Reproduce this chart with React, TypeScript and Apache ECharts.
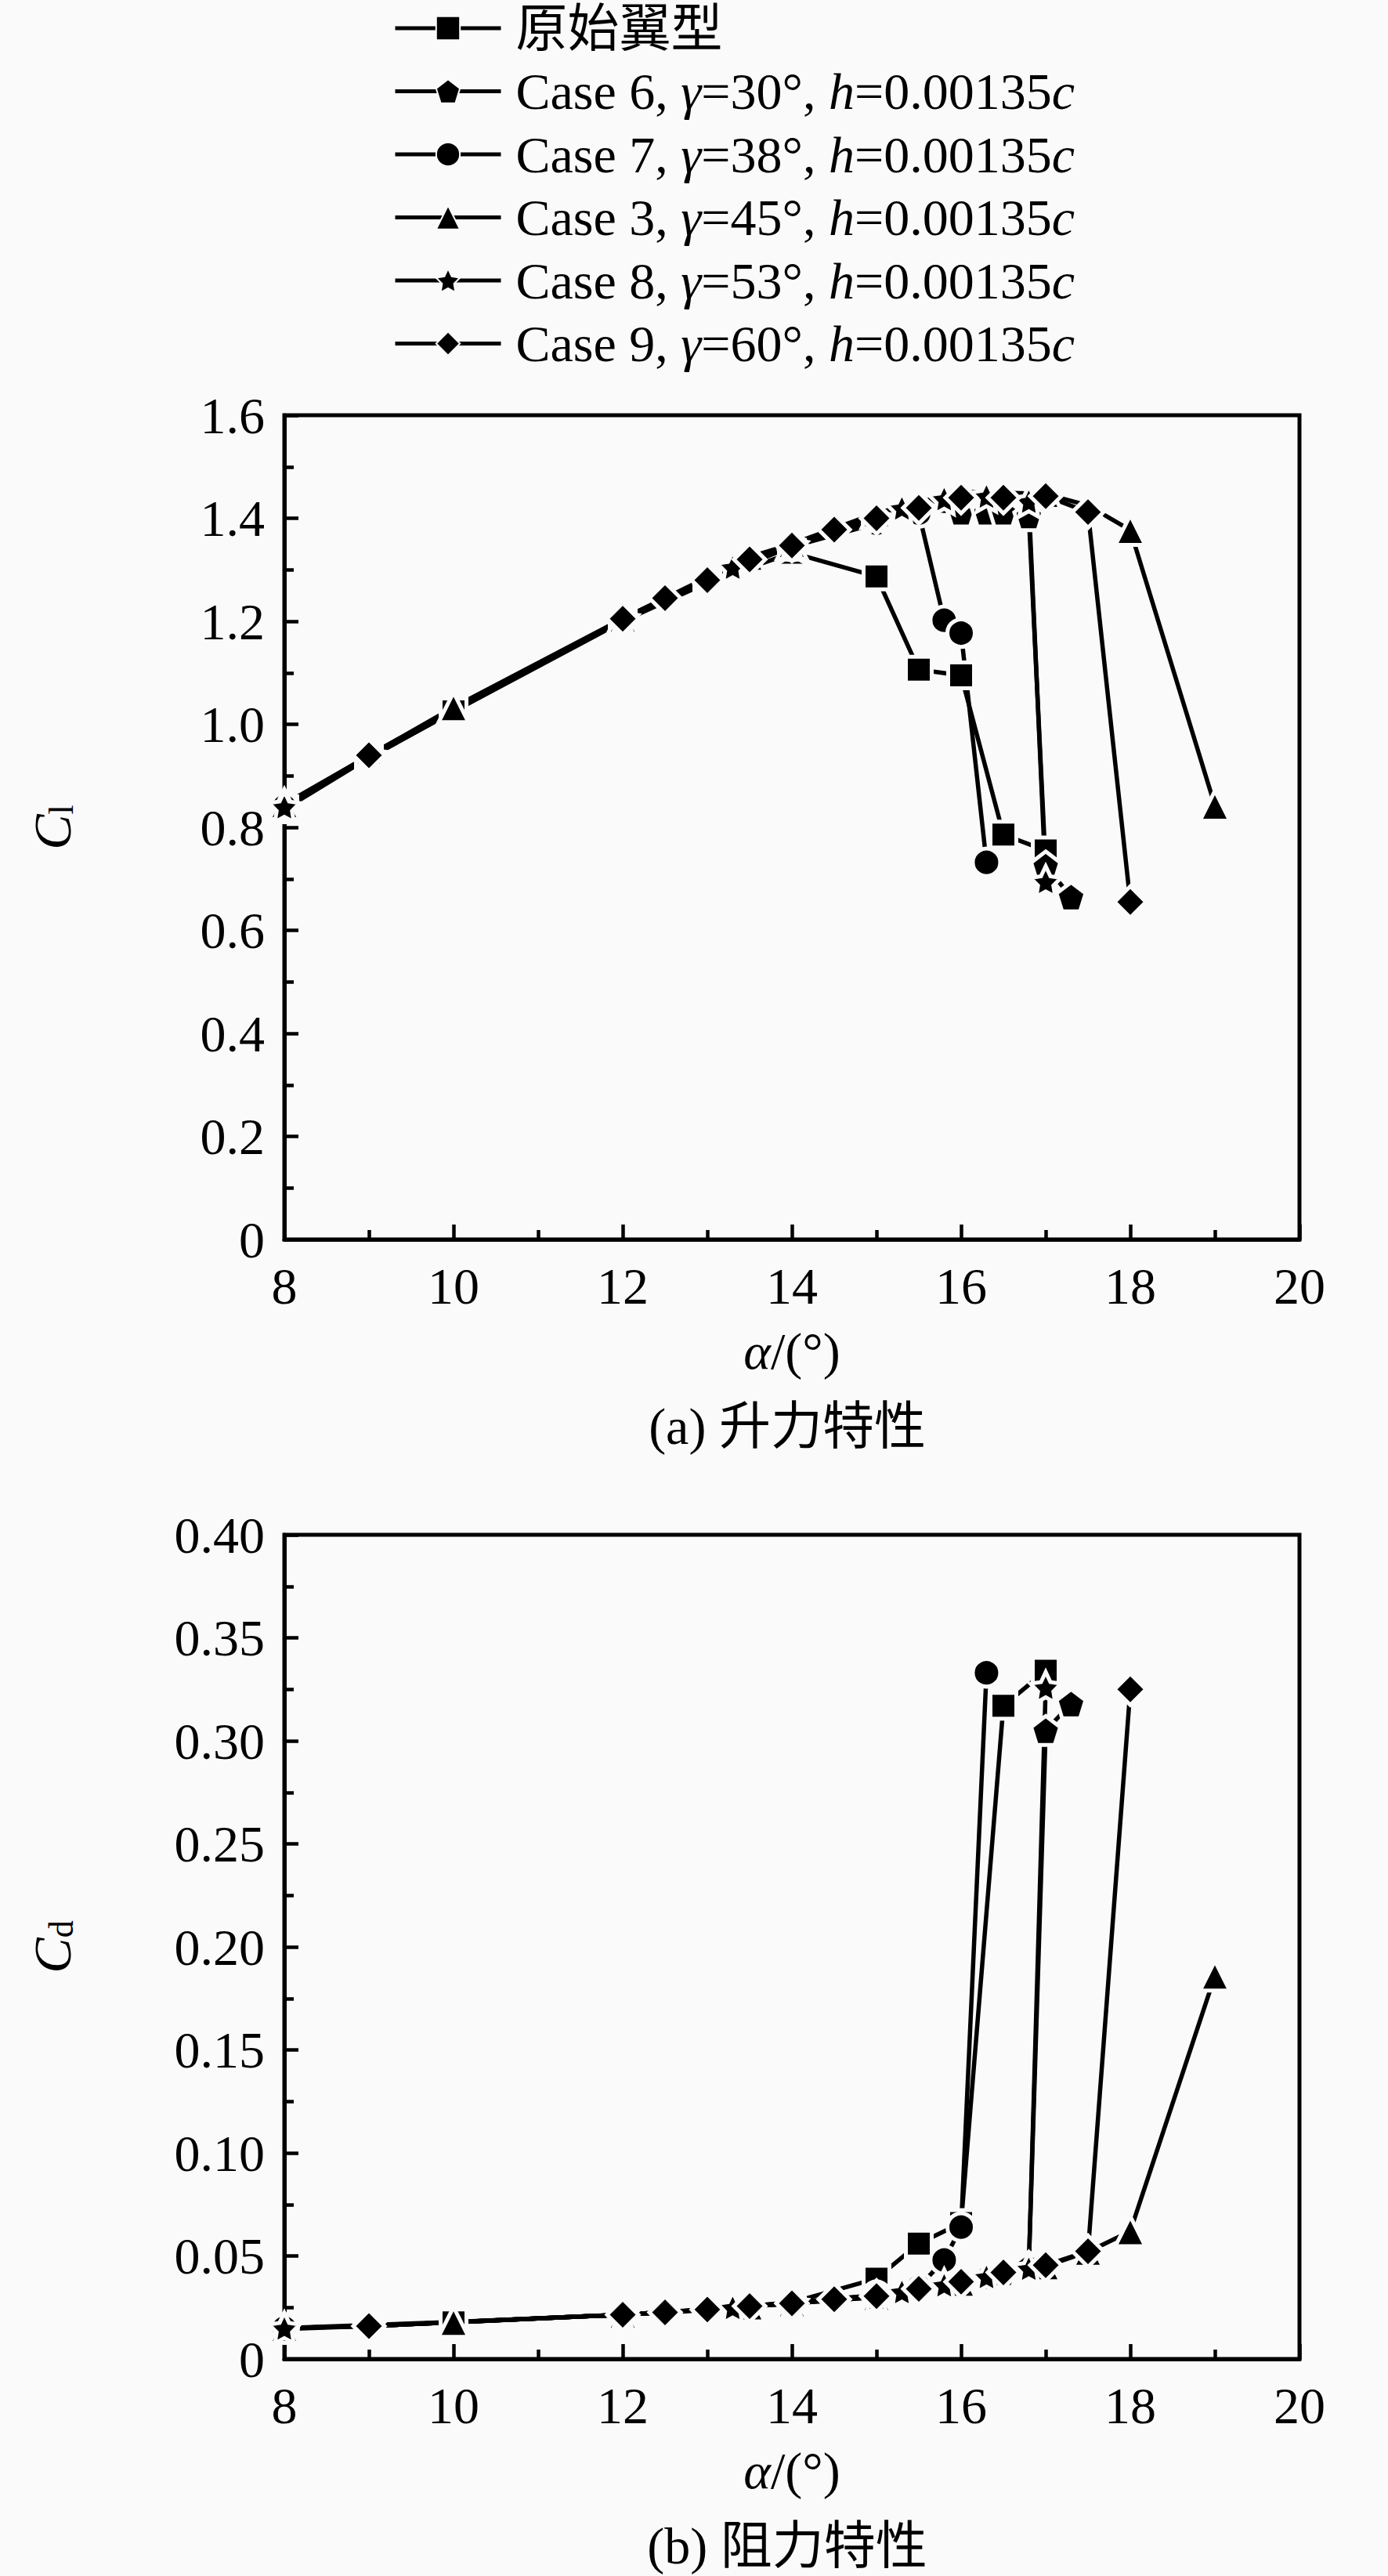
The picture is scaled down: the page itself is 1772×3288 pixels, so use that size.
import React, { useEffect, useRef } from "react";
import * as echarts from "echarts";

// ---- data ----
const seriesNames = [
  "原始翼型",
  "Case 6, γ=30°, h=0.00135c",
  "Case 7, γ=38°, h=0.00135c",
  "Case 3, γ=45°, h=0.00135c",
  "Case 8, γ=53°, h=0.00135c",
  "Case 9, γ=60°, h=0.00135c",
];
const legendRich = [
  "原始翼型",
  "Case 6, {i|γ}=30°, {i|h}=0.00135{i|c}",
  "Case 7, {i|γ}=38°, {i|h}=0.00135{i|c}",
  "Case 3, {i|γ}=45°, {i|h}=0.00135{i|c}",
  "Case 8, {i|γ}=53°, {i|h}=0.00135{i|c}",
  "Case 9, {i|γ}=60°, {i|h}=0.00135{i|c}",
];

const aOrig = [8, 9, 10, 12, 13, 14, 15, 15.5, 16, 16.5, 17];
const clOrig = [0.835, 0.935, 1.025, 1.2, 1.275, 1.333, 1.287, 1.106, 1.095, 0.786, 0.755];
const cdOrig = [0.0145, 0.016, 0.0178, 0.0215, 0.0238, 0.0275, 0.039, 0.056, 0.066, 0.317, 0.334];

const aC6 = [8, 9, 12, 13, 14, 15, 15.5, 16, 16.3, 16.5, 16.8, 17, 17.3];
const clC6 = [0.84, 0.935, 1.205, 1.28, 1.348, 1.395, 1.418, 1.412, 1.412, 1.412, 1.405, 0.725, 0.665];
const cdC6 = [0.015, 0.016, 0.0215, 0.024, 0.027, 0.031, 0.0345, 0.0375, 0.04, 0.042, 0.045, 0.305, 0.318];

const aC7 = [8, 9, 12, 13, 14, 15, 15.5, 15.8, 16, 16.3];
const clC7 = [0.84, 0.935, 1.205, 1.28, 1.345, 1.39, 1.41, 1.202, 1.177, 0.732];
const cdC7 = [0.015, 0.016, 0.0215, 0.024, 0.0275, 0.031, 0.035, 0.048, 0.064, 0.333];

const aC3 = [8, 10, 12, 13.5, 14, 15, 16, 17, 17.5, 18, 19];
const clC3 = [0.845, 1.033, 1.205, 1.325, 1.35, 1.41, 1.452, 1.447, 1.425, 1.377, 0.842];
const cdC3 = [0.015, 0.018, 0.0215, 0.0255, 0.027, 0.03, 0.037, 0.045, 0.052, 0.062, 0.186];

const aC8 = [8, 9, 12, 13, 13.3, 14, 15, 15.3, 15.8, 16.3, 16.8, 17];
const clC8 = [0.84, 0.94, 1.205, 1.282, 1.305, 1.347, 1.4, 1.42, 1.438, 1.443, 1.433, 0.695];
const cdC8 = [0.015, 0.016, 0.0215, 0.024, 0.025, 0.027, 0.03, 0.0327, 0.036, 0.04, 0.044, 0.326];

const aC9 = [9, 12, 12.5, 13, 13.5, 14, 14.5, 15, 15.5, 16, 16.5, 17, 17.5, 18];
const clC9 = [0.94, 1.205, 1.245, 1.28, 1.32, 1.347, 1.378, 1.4, 1.42, 1.44, 1.44, 1.443, 1.412, 0.655];
const cdC9 = [0.016, 0.0215, 0.0226, 0.024, 0.0257, 0.027, 0.029, 0.0305, 0.034, 0.0375, 0.042, 0.0455, 0.0523, 0.325];

const xTicks = [8, 10, 12, 14, 16, 18, 20];

// ---- styles ----
const BG = "#fafafa";
const FONT = "'Liberation Serif', 'Times New Roman', 'Noto Sans CJK SC', serif";
const FS = 66;

const PENTAGON = "path://M50,0L97.6,34.5L79.4,90.5L20.6,90.5L2.4,34.5Z";
const STAR =
  "path://M50,0L64.7,29.8L97.6,34.5L73.8,57.7L79.4,90.5L50,75L20.6,90.5L26.2,57.7L2.4,34.5L35.3,29.8Z";

const symbols = ["rect", PENTAGON, "circle", "triangle", STAR, "diamond"];
const symbolSizes = [33, 37, 35, 38, 39, 40];

const alphas = [aOrig, aC6, aC7, aC3, aC8, aC9];
const cls = [clOrig, clC6, clC7, clC3, clC8, clC9];
const cds = [cdOrig, cdC6, cdC7, cdC3, cdC8, cdC9];

function zip(a: number[], b: number[]) {
  return a.map((x, i) => [x, b[i]]);
}

const GRID_LEFT = 363;
const GRID_W = 1296;
const GRID_H = 1052;
const TOP1 = 530;
const TOP2 = 1959;
const AXW = 5;
const TKW = 4.5;
const LW = 5.5;

function xAxisCfg(gridIndex: number) {
  return {
    type: "value",
    gridIndex,
    min: 8,
    max: 20,
    interval: 2,
    name: "{i|α}/(°)",
    nameLocation: "middle",
    nameGap: 109,
    nameTextStyle: {
      fontFamily: FONT,
      fontSize: FS,
      color: "#000",
      lineHeight: FS,
      rich: { i: { fontFamily: FONT, fontSize: FS, fontStyle: "italic", color: "#000", lineHeight: FS } },
    },
    axisLine: { show: true, onZero: false, lineStyle: { color: "#000", width: AXW } },
    axisTick: { show: true, inside: true, length: 19, lineStyle: { color: "#000", width: TKW } },
    minorTick: { show: true, splitNumber: 2, length: 12, lineStyle: { color: "#000", width: TKW } },
    splitLine: { show: false },
    axisLabel: {
      show: true,
      margin: 26,
      fontFamily: FONT,
      fontSize: FS,
      color: "#000",
      lineHeight: FS,
      formatter: (v: number) => (xTicks.indexOf(v) >= 0 ? String(v) : ""),
    },
  };
}

function yAxisCfg(gridIndex: number, max: number, interval: number, digits: number, sub: string) {
  return {
    type: "value",
    gridIndex,
    min: 0,
    max,
    interval,
    name: "{c|C}{s|" + sub + "}",
    nameLocation: "middle",
    nameRotate: 90,
    nameGap: 263,
    nameTextStyle: {
      fontFamily: FONT,
      fontSize: FS,
      color: "#000",
      lineHeight: FS,
      rich: {
        c: { fontFamily: FONT, fontSize: 68, fontStyle: "italic", color: "#000", lineHeight: FS },
        s: { fontFamily: FONT, fontSize: 44, color: "#000", lineHeight: 26, verticalAlign: "bottom" },
      },
    },
    axisLine: { show: true, onZero: false, lineStyle: { color: "#000", width: AXW } },
    axisTick: { show: true, inside: true, length: 18, lineStyle: { color: "#000", width: TKW } },
    minorTick: { show: true, splitNumber: 2, length: 12, lineStyle: { color: "#000", width: TKW } },
    splitLine: { show: false },
    axisLabel: {
      show: true,
      margin: 25,
      fontFamily: FONT,
      fontSize: FS,
      color: "#000",
      formatter: (v: number) => (Math.abs(v) < 1e-9 ? "0" : v.toFixed(digits)),
    },
  };
}

export default function App() {
  const ref = useRef<HTMLDivElement>(null);

  useEffect(() => {
    document.body.style.margin = "0";
    document.body.style.background = BG;
    if (!ref.current) return;
    const chart = echarts.init(ref.current, null, { renderer: "svg" });

    const series: any[] = [];
    for (let g = 0; g < 2; g++) {
      for (let k = 0; k < 6; k++) {
        series.push({
          name: seriesNames[k],
          type: "line",
          xAxisIndex: g,
          yAxisIndex: g,
          data: zip(alphas[k], g === 0 ? cls[k] : cds[k]),
          symbol: symbols[k],
          symbolSize: symbolSizes[k],
          showAllSymbol: true,
          lineStyle: { color: "#000", width: LW },
          itemStyle: { color: "#000", borderColor: BG, borderWidth: 5 },
          emphasis: { disabled: true },
          z: 2,
        });
      }
    }

    const option: any = {
      animation: false,
      backgroundColor: BG,
      legend: {
        show: true,
        orient: "vertical",
        left: 502,
        top: 3,
        padding: 0,
        itemGap: 14.5,
        itemWidth: 135,
        itemHeight: 38,
        data: seriesNames,
        selectedMode: false,
        itemStyle: { borderColor: BG, borderWidth: 2 },
        lineStyle: { color: "#000", width: 5 },
        formatter: (name: string) => legendRich[seriesNames.indexOf(name)],
        textStyle: {
          fontFamily: FONT,
          fontSize: FS,
          color: "#000",
          lineHeight: FS,
          padding: [0, 0, 0, 14],
          rich: {
            i: { fontFamily: FONT, fontSize: FS, fontStyle: "italic", color: "#000", lineHeight: FS },
          },
        },
      },
      grid: [
        {
          left: GRID_LEFT, top: TOP1, width: GRID_W, height: GRID_H,
          show: true, borderColor: "#000", borderWidth: AXW, backgroundColor: "transparent",
        },
        {
          left: GRID_LEFT, top: TOP2, width: GRID_W, height: GRID_H,
          show: true, borderColor: "#000", borderWidth: AXW, backgroundColor: "transparent",
        },
      ],
      xAxis: [xAxisCfg(0), xAxisCfg(1)],
      yAxis: [yAxisCfg(0, 1.6, 0.2, 1, "l"), yAxisCfg(1, 0.4, 0.05, 2, "d")],
      series,
      graphic: [
        {
          type: "text",
          x: 1005,
          y: TOP1 + GRID_H + 238,
          style: {
            text: "(a) 升力特性",
            fontFamily: FONT,
            fontSize: FS,
            fill: "#000",
            align: "center",
            verticalAlign: "middle",
          },
        },
        {
          type: "text",
          x: 1005,
          y: TOP2 + GRID_H + 238,
          style: {
            text: "(b) 阻力特性",
            fontFamily: FONT,
            fontSize: FS,
            fill: "#000",
            align: "center",
            verticalAlign: "middle",
          },
        },
      ],
    };

    chart.setOption(option);
    return () => chart.dispose();
  }, []);

  return (
    <div
      ref={ref}
      style={{ position: "absolute", left: 0, top: 0, width: 1772, height: 3288, background: BG }}
    />
  );
}
